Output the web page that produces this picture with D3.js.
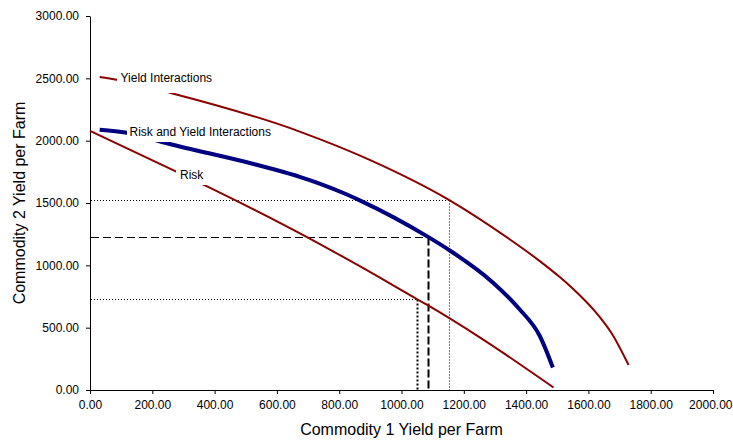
<!DOCTYPE html>
<html>
<head>
<meta charset="utf-8">
<script src="https://cdn.jsdelivr.net/npm/d3@7"></script>
<style>
  html, body { margin: 0; padding: 0; background: #fff; }
  svg { display: block; }
  text { font-family: "Liberation Sans", Arial, sans-serif; fill: #000; }
</style>
</head>
<body>
<svg id="chart" width="733" height="443"></svg>
<script>
// Yield frontiers: commodity 1 yield (x) vs commodity 2 yield (y), per farm
const yieldIntX = [31, 86, 262, 673, 898, 1148, 1347, 1444, 1508, 1540, 1636, 1674, 1729];
const yieldIntY = [2510, 2488, 2381, 2073, 1846, 1531, 1209, 1034, 906, 836, 586, 457, 200];

const riskYieldX = [31, 118, 250, 577, 673, 737, 823, 866, 1084, 1152, 1293, 1379, 1444, 1486];
const riskYieldY = [2087, 2063, 1977, 1779, 1710, 1656, 1570, 1521, 1230, 1124, 863, 648, 433, 180];

const riskX = [0, 277, 384, 695, 866, 1049, 1084, 1261, 1488];
const riskY = [2078, 1752, 1624, 1229, 993, 730, 680, 406, 20];

// Reference points marked with drop lines to both axes
const refX = [1152, 1084, 1049];
const refY = [1527, 1230, 730];

const xTicks = [0, 200, 400, 600, 800, 1000, 1200, 1400, 1600, 1800, 2000];
const yTicks = [0, 500, 1000, 1500, 2000, 2500, 3000];

const seriesNames = ["Yield Interactions", "Risk and Yield Interactions", "Risk"];

const svg = d3.select("#chart");
const x = d3.scaleLinear().domain([0, 2000]).range([90, 713]);
const y = d3.scaleLinear().domain([0, 3000]).range([390, 16]);
const fmt = d3.format(".2f");

// Axes
const xAxis = svg.append("g")
  .attr("transform", "translate(0,390)")
  .call(d3.axisBottom(x).tickValues(xTicks).tickFormat(fmt).tickSizeInner(4).tickSizeOuter(0).tickPadding(6));
const yAxis = svg.append("g")
  .attr("transform", "translate(90,0)")
  .call(d3.axisLeft(y).tickValues(yTicks).tickFormat(fmt).tickSizeInner(4).tickSizeOuter(0).tickPadding(7));
[xAxis, yAxis].forEach(g => {
  g.selectAll("text").style("font-size", "12px").style("font-family", "'Liberation Sans', Arial, sans-serif").attr("fill", "#000");
  g.selectAll("line, path").attr("stroke", "#000");
});
// keep the last x tick label inside the canvas edge
xAxis.selectAll(".tick").filter(d => d === xTicks[xTicks.length - 1])
  .select("text").attr("text-anchor", "end").attr("x", 19);

// Drop lines from each reference point
const refStyles = [
  { h: { w: 1, dash: "1,2" }, v: { w: 1, dash: "1,2" } },
  { h: { w: 1, dash: "8,4" }, v: { w: 2, dash: "8,3" } },
  { h: { w: 1, dash: "1,2" }, v: { w: 2, dash: "2,2" } }
];
const refG = svg.append("g");
refX.forEach((vx, i) => {
  const px = Math.round(x(vx)) + 0.5, py = Math.round(y(refY[i])) + 0.5;
  refG.append("line")
    .attr("x1", x(0) + 1).attr("x2", px).attr("y1", py).attr("y2", py)
    .attr("stroke", "#000").attr("stroke-width", refStyles[i].h.w)
    .attr("stroke-dasharray", refStyles[i].h.dash);
  refG.append("line")
    .attr("x1", px).attr("x2", px).attr("y1", py).attr("y2", y(0))
    .attr("stroke", "#000").attr("stroke-width", refStyles[i].v.w)
    .attr("stroke-dasharray", refStyles[i].v.dash);
});

// Frontier curves
const line = d3.line().x(d => x(d[0])).y(d => y(d[1])).curve(d3.curveMonotoneX);
const series = [
  { name: seriesNames[0], pts: d3.zip(yieldIntX, yieldIntY), color: "#8b0000", width: 2 },
  { name: seriesNames[1], pts: d3.zip(riskYieldX, riskYieldY), color: "#000080", width: 4 },
  { name: seriesNames[2], pts: d3.zip(riskX, riskY), color: "#8b0000", width: 2 }
];
svg.append("g").selectAll("path")
  .data(series)
  .join("path")
  .attr("d", d => line(d.pts))
  .attr("fill", "none")
  .attr("stroke", d => d.color)
  .attr("stroke-width", d => d.width)
  .attr("stroke-linejoin", "round");

// Series labels on white boxes laid over the curves
const labels = [
  { text: seriesNames[0], tx: 120.5, ty: 82, box: [117, 68, 101, 25] },
  { text: seriesNames[1], tx: 129.5, ty: 136, box: [127, 125, 150, 17] },
  { text: seriesNames[2], tx: 180, ty: 178.5, box: [176, 165, 31, 20] }
];
const lg = svg.append("g");
labels.forEach(l => {
  lg.append("rect")
    .attr("x", l.box[0]).attr("y", l.box[1]).attr("width", l.box[2]).attr("height", l.box[3])
    .attr("fill", "#fff");
  lg.append("text")
    .attr("x", l.tx).attr("y", l.ty)
    .style("font-size", "12px")
    .text(l.text);
});

// Axis titles
svg.append("text")
  .attr("x", (x.range()[0] + x.range()[1]) / 2)
  .attr("y", 435)
  .attr("text-anchor", "middle")
  .style("font-size", "16px")
  .text("Commodity 1 Yield per Farm");
svg.append("text")
  .attr("transform", `translate(25,${(y.range()[0] + y.range()[1]) / 2}) rotate(-90)`)
  .attr("text-anchor", "middle")
  .style("font-size", "16px")
  .text("Commodity 2 Yield per Farm");
</script>
</body>
</html>
